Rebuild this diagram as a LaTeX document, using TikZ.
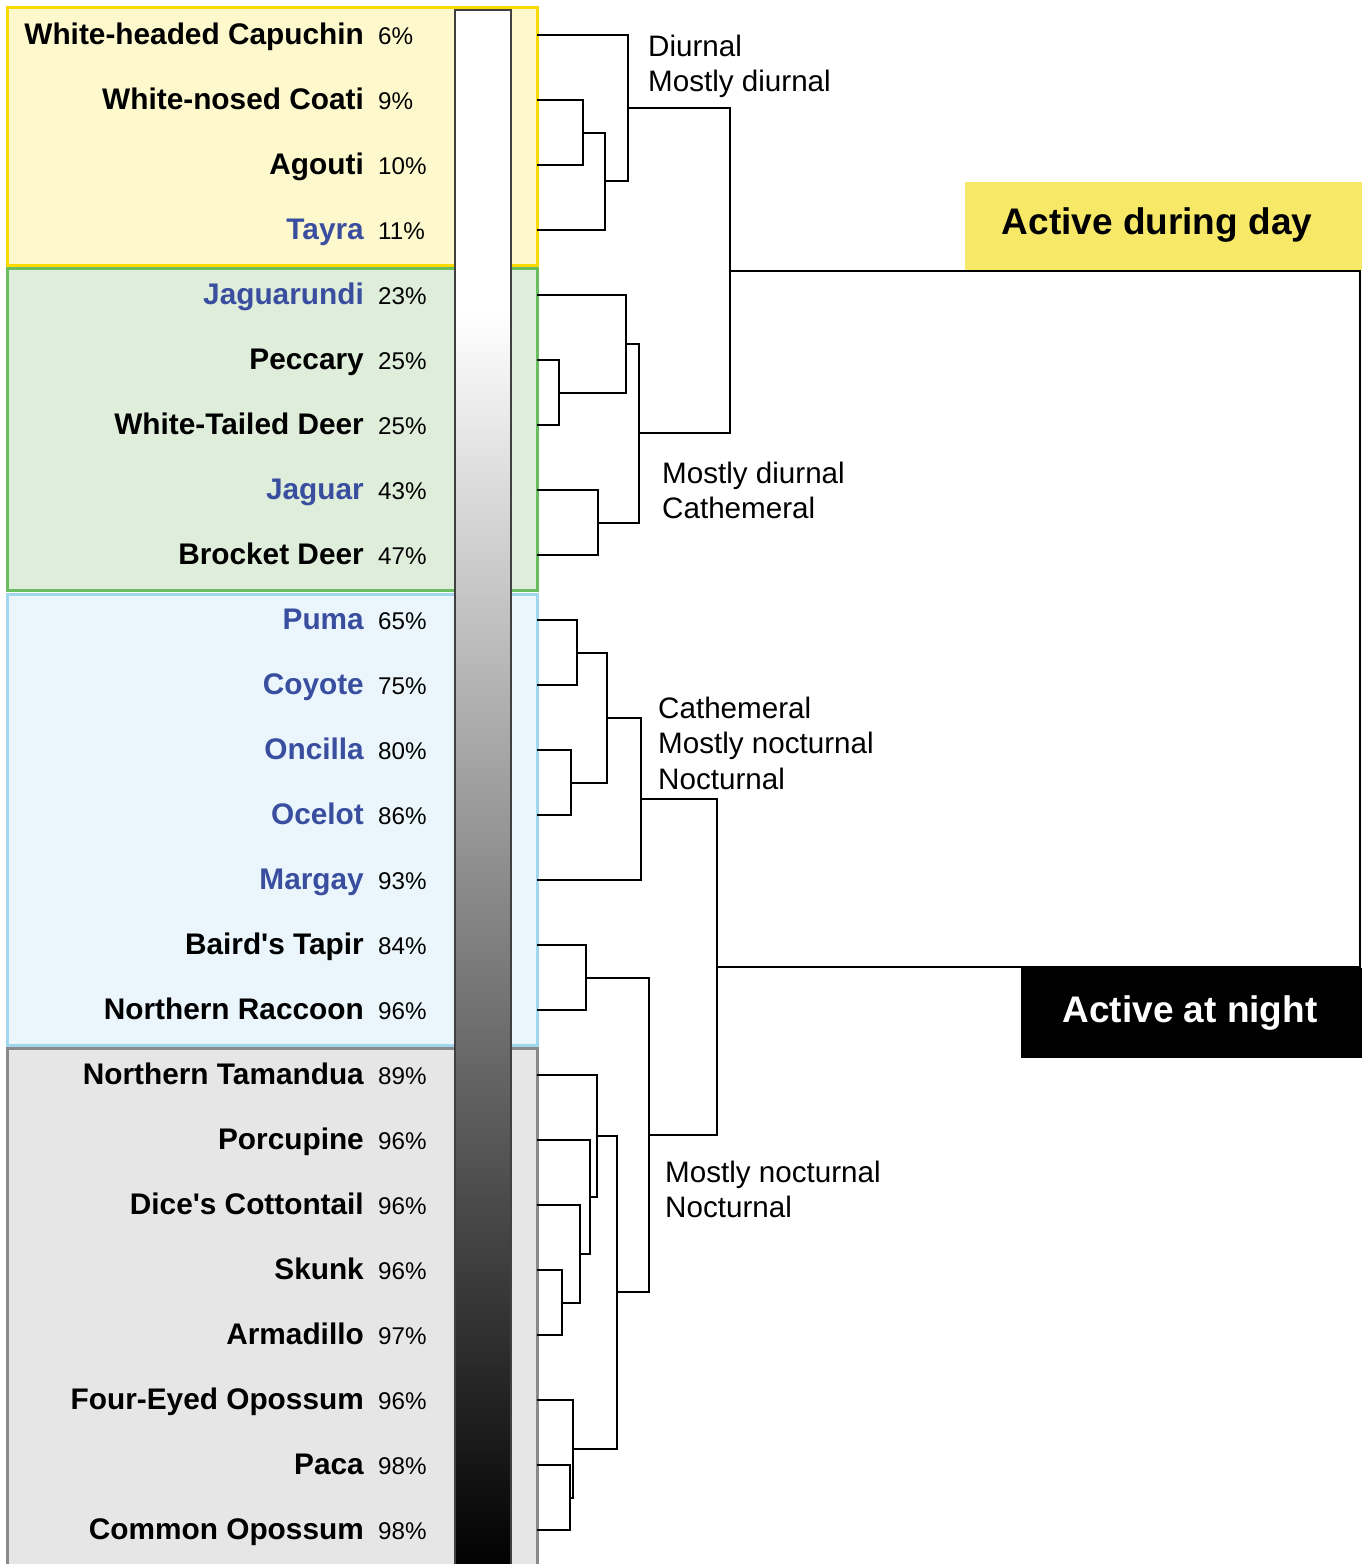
\documentclass[tikz,border=0pt]{standalone}
\usepackage{fontspec}
\setmainfont{Liberation Sans}
\definecolor{nameblue}{RGB}{58,78,160}
\definecolor{yelB}{RGB}{250,218,0}
\definecolor{yelF}{RGB}{253,249,205}
\definecolor{grnB}{RGB}{106,190,96}
\definecolor{grnF}{RGB}{223,237,219}
\definecolor{bluB}{RGB}{160,214,238}
\definecolor{bluF}{RGB}{234,246,252}
\definecolor{gryB}{RGB}{138,138,138}
\definecolor{gryF}{RGB}{230,230,230}
\definecolor{dayF}{RGB}{247,233,103}
\begin{document}
\begin{tikzpicture}[x=1pt,y=-1pt,
  spname/.style={anchor=base east,inner sep=0pt,font=\fontsize{29.8}{36}\selectfont\bfseries},
  pct/.style={anchor=base west,inner sep=0pt,font=\fontsize{24.2}{29}\selectfont},
  lbl/.style={anchor=base west,inner sep=0pt,font=\fontsize{29.6}{36}\selectfont},
  grp/.style={line width=3pt},
  branch/.style={line width=2pt,line cap=rect},
  big/.style={anchor=base,inner sep=0pt,font=\fontsize{37}{44}\selectfont\bfseries}]
\useasboundingbox (0,0) rectangle (1369,1564);
\fill[white] (0,0) rectangle (1369,1564);
% group boxes
\draw[grp,draw=yelB,fill=yelF] (7,7) rectangle (537,265);
\draw[grp,draw=grnB,fill=grnF] (7,268) rectangle (537,590);
\draw[grp,draw=bluB,fill=bluF] (7,594) rectangle (537,1045);
\draw[grp,draw=gryB,fill=gryF] (7,1048) rectangle (537,1590);
% gradient bar
\fill[white] (455,10) rectangle (511,311);
\shade[top color=white,bottom color=black] (455,310) rectangle (511,1570);
\draw[line width=1.5pt,draw=black!75] (455,10) rectangle (511,1580);
% species
\foreach \i/\n/\p/\c in {
 1/White-headed Capuchin/6/black,
 2/White-nosed Coati/9/black,
 3/Agouti/10/black,
 4/Tayra/11/nameblue,
 5/Jaguarundi/23/nameblue,
 6/Peccary/25/black,
 7/White-Tailed Deer/25/black,
 8/Jaguar/43/nameblue,
 9/Brocket Deer/47/black,
 10/Puma/65/nameblue,
 11/Coyote/75/nameblue,
 12/Oncilla/80/nameblue,
 13/Ocelot/86/nameblue,
 14/Margay/93/nameblue,
 15/Baird\textquotesingle s Tapir/84/black,
 16/Northern Raccoon/96/black,
 17/Northern Tamandua/89/black,
 18/Porcupine/96/black,
 19/Dice\textquotesingle s Cottontail/96/black,
 20/Skunk/96/black,
 21/Armadillo/97/black,
 22/Four-Eyed Opossum/96/black,
 23/Paca/98/black,
 24/Common Opossum/98/black}{
  \pgfmathsetmacro\yy{35+65*(\i-1)}
  \node[spname,text=\c] (sp\i) at (364,\yy+9) {\n};
  \node[pct] (pc\i) at (378,\yy+9) {\p\%};
  \coordinate (L\i) at (538,\yy);
}
% internal nodes
\coordinate (a1) at (583,132.5);
\coordinate (a2) at (605,181.25);
\coordinate (a3) at (628,108.1);
\coordinate (b1) at (559,392.5);
\coordinate (b2) at (626,343.75);
\coordinate (b3) at (598,522.5);
\coordinate (b4) at (639,433.1);
\coordinate (ab) at (730,270.6);
\coordinate (c1) at (577,652.5);
\coordinate (c2) at (571,782.5);
\coordinate (c3) at (607,717.5);
\coordinate (c4) at (641,798.75);
\coordinate (c5) at (586,977.5);
\coordinate (d1) at (562,1302.5);
\coordinate (d2) at (580,1253.75);
\coordinate (d3) at (590,1196.9);
\coordinate (d4) at (597,1135.9);
\coordinate (d5) at (570,1497.5);
\coordinate (d6) at (573,1448.75);
\coordinate (d7) at (617,1292.3);
\coordinate (cd1) at (649,1134.9);
\coordinate (cd) at (717,966.8);
\coordinate (root) at (1360,618.7);
% labels boxes
\fill[dayF] (965,182) rectangle (1362,270);
\node[big] (day) at (1157,234) {Active during day};
\fill[black] (1021,968) rectangle (1362,1058);
\node[big,text=white] (night) at (1190,1022) {Active at night};
% branches
\draw[branch] (L2) -| (a1) (L3) -| (a1);
\draw[branch] (a1) -| (a2) (L4) -| (a2);
\draw[branch] (L1) -| (a3) (a2) -| (a3);
\draw[branch] (L6) -| (b1) (L7) -| (b1);
\draw[branch] (L5) -| (b2) (b1) -| (b2);
\draw[branch] (L8) -| (b3) (L9) -| (b3);
\draw[branch] (b2) -| (b4) (b3) -| (b4);
\draw[branch] (a3) -| (ab) (b4) -| (ab);
\draw[branch] (L10) -| (c1) (L11) -| (c1);
\draw[branch] (L12) -| (c2) (L13) -| (c2);
\draw[branch] (c1) -| (c3) (c2) -| (c3);
\draw[branch] (c3) -| (c4) (L14) -| (c4);
\draw[branch] (L15) -| (c5) (L16) -| (c5);
\draw[branch] (L20) -| (d1) (L21) -| (d1);
\draw[branch] (L19) -| (d2) (d1) -| (d2);
\draw[branch] (L18) -| (d3) (d2) -| (d3);
\draw[branch] (L17) -| (d4) (d3) -| (d4);
\draw[branch] (L23) -| (d5) (L24) -| (d5);
\draw[branch] (L22) -| (d6) (d5) -| (d6);
\draw[branch] (d4) -| (d7) (d6) -| (d7);
\draw[branch] (c5) -| (cd1) (d7) -| (cd1);
\draw[branch] (c4) -| (cd) (cd1) -| (cd);
\draw[branch] (ab) -| (root) (cd) -| (root);
% cluster labels
\node[lbl] (t1a) at (648,56) {Diurnal};
\node[lbl] (t1b) at (648,91) {Mostly diurnal};
\node[lbl] (t2a) at (662,483) {Mostly diurnal};
\node[lbl] (t2b) at (662,518) {Cathemeral};
\node[lbl] (t3a) at (658,718) {Cathemeral};
\node[lbl] (t3b) at (658,753) {Mostly nocturnal};
\node[lbl] (t3c) at (658,789) {Nocturnal};
\node[lbl] (t4a) at (665,1182) {Mostly nocturnal};
\node[lbl] (t4b) at (665,1217) {Nocturnal};
\end{tikzpicture}
\end{document}
